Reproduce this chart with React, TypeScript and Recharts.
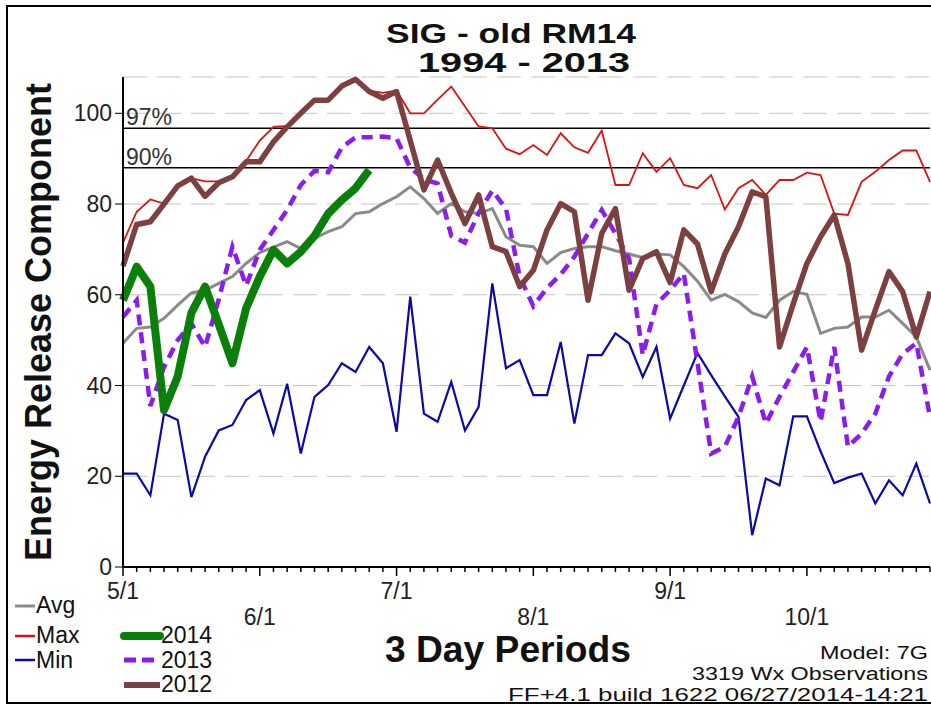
import { LineChart, Line, XAxis, YAxis, CartesianGrid, ReferenceLine } from "recharts";

// 3-day periods starting 5/1, 60 periods
const avgErc = [49.3, 52.6, 52.9, 54.8, 57.7, 60.4, 61, 62.5, 64, 66.9, 69.3, 70.5, 71.7, 70.2, 72.4, 73.9, 75, 77.9, 78.3, 80.1, 81.6, 83.8, 81.2, 77.9, 80.1, 78.3, 77.9, 79, 72.8, 70.9, 70.6, 66.9, 69.3, 70.2, 70.6, 70.6, 69.7, 69, 68.2, 69, 68.8, 66.2, 63, 58.8, 60.1, 58.5, 56, 55, 58.8, 60.7, 60.1, 51.5, 52.6, 52.9, 55.1, 55.1, 56.6, 53.7, 50.7, 43.4];
const maxErc = [71.5, 78.3, 81, 80.1, 84, 85.7, 85, 85, 86.2, 89.5, 94, 97, 97.2, 100.2, 103, 103.2, 106.2, 107.7, 105, 104.5, 105, 100, 100, 103, 105.9, 101.5, 97.1, 96.7, 92.2, 91, 93, 90.8, 95.6, 92.5, 91.3, 96.2, 84.2, 84.2, 91.2, 87.1, 90.1, 84.2, 83.5, 86.4, 78.8, 83.5, 85.3, 82, 85.3, 85.3, 86.9, 86.4, 77.9, 77.6, 84.9, 87.1, 89.7, 91.8, 91.8, 84.9];
const minErc = [20.6, 20.6, 15.8, 33.8, 32.4, 15.4, 24.3, 30.1, 31.3, 36.8, 39, 29.4, 40.4, 25, 37.5, 40.1, 44.9, 43, 48.5, 44.9, 29.8, 59.6, 33.8, 32, 40.8, 30.1, 35.3, 62.5, 43.8, 45.6, 37.9, 37.9, 49.6, 31.6, 46.7, 46.7, 51.5, 49.3, 41.9, 48.5, 32.7, 40, 47.2, 42.3, 37.6, 33.1, 7, 19.5, 18, 33.2, 33.2, 25.5, 18.5, 19.7, 20.6, 14, 19.1, 15.8, 22.8, 14];
const erc2014 = [58.8, 66.2, 61.8, 34.6, 42, 56, 61.8, 53.5, 44.9, 57, 64, 69.9, 66.9, 69.5, 73, 77.9, 80.9, 83.5, 87.5];
const erc2013 = [55.1, 58.8, 35.5, 44.1, 50, 53.7, 48.5, 59, 70.6, 62, 69.9, 74.3, 78.7, 84.2, 87.3, 87, 92.5, 94.7, 94.7, 94.9, 94.5, 88, 85.5, 84.5, 73, 71.5, 78, 83, 79, 64, 57.5, 61.5, 64.5, 68.4, 73.5, 78.7, 73.5, 68, 46.7, 58, 61, 64.7, 45, 25, 26.5, 33.1, 42, 31.6, 37.5, 43, 48.5, 32, 48.5, 26.5, 29.4, 33.8, 42, 47, 49.3, 33];
const erc2012 = [66.3, 75.5, 76.1, 80, 84, 85.7, 81.7, 84.7, 86, 89.3, 89.3, 93.7, 97, 100, 102.9, 102.9, 106, 107.5, 104.8, 103.3, 104.8, 94, 83.1, 89.7, 82.4, 75.7, 82, 70.6, 69.5, 61.8, 65.4, 74.3, 80.1, 78.3, 58.8, 73.5, 79, 61, 68, 69.5, 62.7, 74.3, 71.2, 60.7, 69, 75, 82.7, 81.6, 48.5, 58, 66.9, 72.8, 77.6, 66.9, 47.8, 56.6, 65.1, 60.7, 50.7, 60.7];

const monthLabels = ["5/1", "6/1", "7/1", "8/1", "9/1", "10/1"];
const monthPeriods = [0, 10, 20, 30, 40, 50];
const yTicks = [0, 20, 40, 60, 80, 100];
const pct97 = 96.7;
const pct90 = 88;

const data = avgErc.map((v, i) => ({
  period: i,
  avg: v,
  max: maxErc[i],
  min: minErc[i],
  y2014: i < erc2014.length ? erc2014[i] : null,
  y2013: erc2013[i],
  y2012: erc2012[i],
}));
const periodTicks = data.map((d) => d.period);

const FONT = "'Liberation Sans', Arial, Helvetica, sans-serif";

function PeriodTick({ x, y, payload }: any) {
  const k = monthPeriods.indexOf(payload.value);
  const isMonth = k >= 0;
  return (
    <g>
      <line x1={x} y1={y} x2={x} y2={y + (isMonth ? 9 : 5)} stroke="#000" strokeWidth={1.5} />
      {isMonth && (
        <text x={x} y={y + (k % 2 === 0 ? 32 : 58)} textAnchor="middle" fontSize={23} fill="#222" fontFamily={FONT}>
          {monthLabels[k]}
        </text>
      )}
    </g>
  );
}

const C = {
  avg: "#8a8a8a",
  max: "#dd1111",
  min: "#0a0aa8",
  y2014: "#0a800a",
  y2013: "#8a1cf0",
  y2012: "#7d4040",
};

function Overlay() {
  const t = { fontFamily: FONT, fill: "#111" };
  return (
    <svg width={931} height={707} style={{ position: "absolute", left: 0, top: 0, pointerEvents: "none" }}>
      <rect x={7} y={6} width={940} height={697} fill="none" stroke="#000" strokeWidth={2} />
      <text x={511} y={43} textAnchor="middle" fontSize={28} fontWeight="bold" textLength={250} lengthAdjust="spacingAndGlyphs" {...t}>
        SIG - old RM14
      </text>
      <text x={524} y={72} textAnchor="middle" fontSize={28} fontWeight="bold" textLength={212} lengthAdjust="spacingAndGlyphs" {...t}>
        1994 - 2013
      </text>
      <text x={51} y={322} transform="rotate(-90 51 322)" textAnchor="middle" fontSize={36} fontWeight="bold" {...t}>
        Energy Release Component
      </text>

      <line x1={15} y1={606} x2={35} y2={606} stroke={C.avg} strokeWidth={3} />
      <text x={36} y={613} fontSize={23} {...t}>Avg</text>
      <line x1={15} y1={636} x2={35} y2={636} stroke={C.max} strokeWidth={2.5} />
      <text x={36} y={643} fontSize={23} {...t}>Max</text>
      <line x1={15} y1={660} x2={35} y2={660} stroke={C.min} strokeWidth={2.5} />
      <text x={36} y={668} fontSize={23} {...t}>Min</text>

      <line x1={124} y1={636} x2={160} y2={636} stroke={C.y2014} strokeWidth={8} strokeLinecap="round" />
      <text x={161} y={643} fontSize={23} {...t}>2014</text>
      <line x1={124} y1={660} x2={160} y2={660} stroke={C.y2013} strokeWidth={5} strokeDasharray="12 6" />
      <text x={161} y={668} fontSize={23} {...t}>2013</text>
      <line x1={124} y1={685} x2={160} y2={685} stroke={C.y2012} strokeWidth={6} />
      <text x={161} y={692} fontSize={23} {...t}>2012</text>

      <text x={508} y={662} textAnchor="middle" fontSize={36} fontWeight="bold" textLength={246} lengthAdjust="spacingAndGlyphs" {...t}>
        3 Day Periods
      </text>
      <text x={928} y={659} textAnchor="end" fontSize={18} textLength={108} lengthAdjust="spacingAndGlyphs" {...t}>
        Model: 7G
      </text>
      <text x={928} y={680} textAnchor="end" fontSize={18} textLength={236} lengthAdjust="spacingAndGlyphs" {...t}>
        3319 Wx Observations
      </text>
      <text x={928} y={701} textAnchor="end" fontSize={18} textLength={420} lengthAdjust="spacingAndGlyphs" {...t}>
        FF+4.1 build 1622 06/27/2014-14:21
      </text>
    </svg>
  );
}

export default function App() {
  return (
    <div style={{ position: "absolute", left: 0, top: 0, width: 931, height: 707, background: "#fff", overflow: "hidden" }}>
      <LineChart width={931} height={707} data={data} margin={{ top: 77, right: 1, bottom: 110, left: 63 }}>
        <CartesianGrid vertical={false} stroke="#c4c4c4" strokeDasharray="24 10" />
        <XAxis
          type="number"
          dataKey="period"
          domain={[0, 59]}
          ticks={periodTicks}
          interval={0}
          height={30}
          tickSize={0}
          tickMargin={0}
          tickLine={false}
          axisLine={{ stroke: "#000", strokeWidth: 2 }}
          tick={(p: any) => <PeriodTick {...p} />}
        />
        <YAxis
          type="number"
          domain={[0, 108]}
          ticks={yTicks}
          width={60}
          tickSize={8}
          tickMargin={3}
          tickLine={{ stroke: "#000" }}
          axisLine={{ stroke: "#000", strokeWidth: 2 }}
          tick={{ fontSize: 23, fill: "#222", fontFamily: FONT }}
        />
        <ReferenceLine
          y={pct97}
          stroke="#000"
          strokeWidth={1.5}
          label={{ value: "97%", position: "insideBottomLeft", offset: 3, fontSize: 23, fill: "#333", fontFamily: FONT }}
        />
        <ReferenceLine
          y={pct90}
          stroke="#000"
          strokeWidth={1.5}
          label={{ value: "90%", position: "insideBottomLeft", offset: 3, fontSize: 23, fill: "#333", fontFamily: FONT }}
        />
        <Line type="linear" dataKey="min" stroke={C.min} strokeWidth={2.2} dot={false} activeDot={false} isAnimationActive={false} />
        <Line type="linear" dataKey="avg" stroke={C.avg} strokeWidth={3} dot={false} activeDot={false} isAnimationActive={false} />
        <Line type="linear" dataKey="max" stroke={C.max} strokeWidth={1.8} dot={false} activeDot={false} isAnimationActive={false} />
        <Line type="linear" dataKey="y2013" stroke={C.y2013} strokeWidth={4.5} strokeDasharray="11 7" dot={false} activeDot={false} isAnimationActive={false} />
        <Line type="linear" dataKey="y2012" stroke={C.y2012} strokeWidth={5.5} strokeLinejoin="round" dot={false} activeDot={false} isAnimationActive={false} />
        <Line type="linear" dataKey="y2014" stroke={C.y2014} strokeWidth={8} strokeLinejoin="round" dot={false} activeDot={false} isAnimationActive={false} />
      </LineChart>
      <Overlay />
    </div>
  );
}
